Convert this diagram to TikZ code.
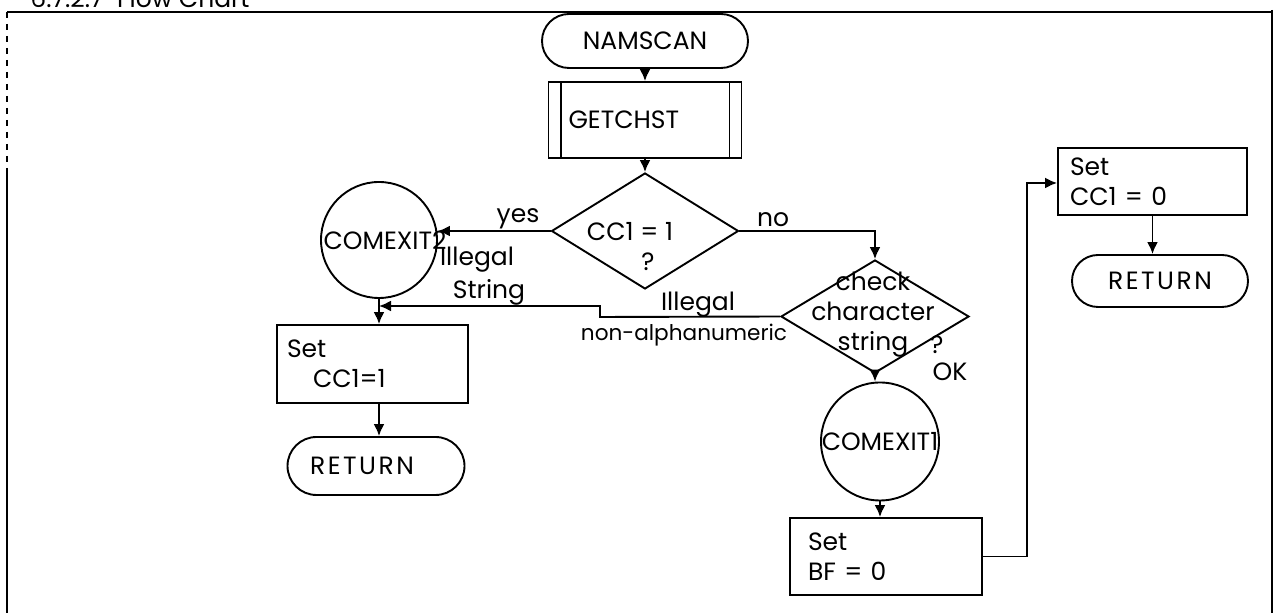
\documentclass[tikz,border=0pt]{standalone}
\usepackage{fontspec}
\setmainfont{Poppins}
\usetikzlibrary{shapes.geometric,shapes.misc,arrows.meta,calc}
\begin{document}
\begin{tikzpicture}[x=0.5pt,y=-0.5pt,
  font=\fontsize{12.5}{15}\selectfont,
  ln/.style={line width=0.95pt},
  arr/.style={line width=0.95pt,-{Latex[length=6pt,width=5.5pt]}},
  term/.style={rounded rectangle,draw,line width=0.95pt,inner sep=0pt},
  procbox/.style={rectangle,draw,line width=0.95pt,align=left,inner ysep=0pt},
  dec/.style={diamond,draw,line width=0.95pt,inner sep=0pt},
  conn/.style={circle,draw,line width=0.95pt,inner sep=0pt},
  lbl/.style={inner sep=0pt},
  wide/.style={font=\fontsize{12.5}{15}\selectfont\addfontfeature{LetterSpace=10}}]
\useasboundingbox (0,0) rectangle (1276,613);
\clip (0,0) rectangle (1276,613);
\fill[white] (0,0) rectangle (1276,613);

% frame and header
\node[lbl,anchor=base west] (hdr) at (30,8) {6.7.2.7\ \ Flow Chart};
\draw[line width=0.7pt] (7,12) -- (1272,12);
\draw[line width=0.6pt] (1272,10) -- (1272,613);
\draw[line width=0.6pt,dashed] (7,12) -- (7,170);
\draw[line width=0.6pt] (7,170) -- (7,613);

% main column
\node[term,minimum width=103pt,minimum height=27pt] (nam) at (645,41) {NAMSCAN};
\node[procbox,minimum width=96.5pt,minimum height=38pt,text width=76.5pt,inner xsep=10pt] (get) at (645,120) {GETCHST};
\draw[ln] ($(get.north west)+(6.5pt,0)$) -- ($(get.south west)+(6.5pt,0)$);
\draw[ln] ($(get.north east)+(-6.5pt,0)$) -- ($(get.south east)+(-6.5pt,0)$);

\node[dec,minimum width=93.5pt,minimum height=58pt] (d1) at (645,231) {};
\node[lbl] (t1) at (630,232) {CC1 = 1};
\node[lbl] (q1) at (648,262) {?};

% left branch
\node[conn,minimum size=58pt] (c2) at (379,240) {\makebox[0pt]{\hspace{6pt}COMEXIT2}};
\node[procbox,minimum width=95.5pt,minimum height=39pt,text width=85.5pt,inner xsep=5pt] (s1) at (372.5,364) {Set\\\hspace*{13pt}CC1=1};
\node[term,wide,minimum width=88.5pt,minimum height=29pt] (r1) at (376,466) {RETURN\hspace*{14pt}};

% right branch
\node[dec,minimum width=94pt,minimum height=56.5pt] (d2) at (875,316.5) {};
\node[lbl,align=center] (t2) at (873,315) {check\\character\\string};
\node[lbl] (q2) at (937,345) {?};
\node[lbl] (ok) at (950,372) {OK};
\node[conn,minimum size=59pt] (c1) at (880,441.5) {\makebox[0pt]{COMEXIT1}};
\node[procbox,minimum width=96pt,minimum height=38.5pt,text width=78pt,inner xsep=9pt] (s2) at (886,556.5) {Set\\BF = 0};
\node[procbox,minimum width=94.5pt,minimum height=33.5pt,text width=82.5pt,inner xsep=6pt] (s3) at (1152.5,181.5) {Set\\CC1 = 0};
\node[term,wide,minimum width=88pt,minimum height=26pt] (r2) at (1160,281) {RETURN};

% labels
\node[lbl] (lyes) at (518,219) {yes};
\node[lbl] (lno) at (773,220) {no};
\node[lbl] (lil1) at (477,260) {Illegal};
\node[lbl] (lstr) at (489,292) {String};
\node[lbl] (lil2) at (698,305) {Illegal};
\node[lbl,font=\fontsize{10.8}{13}\selectfont] (lnon) at (684,335) {non-alphanumeric};

% connectors
\draw[arr] (nam.south) -- (get.north);
\draw[arr] (get.south) -- (d1.north);
\draw[arr] (d1.west) -- (d1.west -| c2.east);
\draw[arr] (d1.east) -| (d2.north);
\coordinate (ia) at (600,317);
\coordinate (ib) at (600,306);
\draw[arr] (d2.west) -- (ia) -- (ib) -- (ib -| c2.south);
\draw[arr] (c2.south) -- (c2.south |- s1.north);
\draw[arr] (c2.south |- s1.south) -- (c2.south |- r1.north);
\draw[arr] (d2.south) -- (d2.south |- c1.north);
\draw[arr] (c1.south) -- (c1.south |- s2.north);
\coordinate (xt) at (1027,183);
\draw[arr] (s2.east) -| (xt) -- (xt -| s3.west);
\draw[arr] (s3.south) -- (s3.south |- r2.north);
\end{tikzpicture}
\end{document}
